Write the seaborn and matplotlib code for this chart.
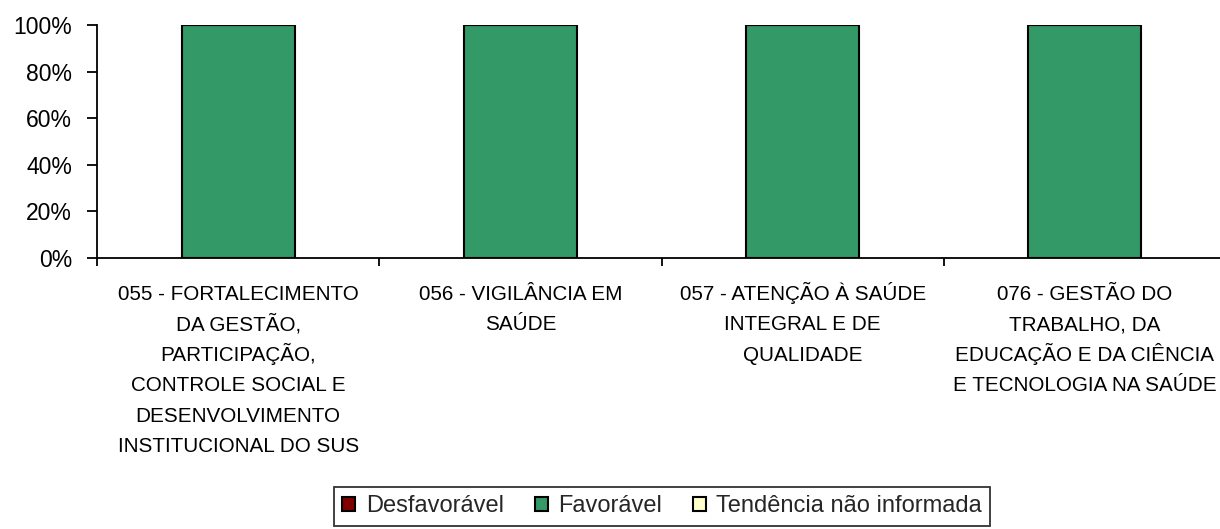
import pandas as pd
import seaborn as sns
import matplotlib.pyplot as plt
from matplotlib.ticker import FuncFormatter, FixedLocator

categorias = ['055 - FORTALECIMENTO\nDA GESTÃO,\nPARTICIPAÇÃO,\nCONTROLE SOCIAL E\nDESENVOLVIMENTO\nINSTITUCIONAL DO SUS',
              '056 - VIGILÂNCIA EM\nSAÚDE',
              '057 - ATENÇÃO À SAÚDE\nINTEGRAL E DE\nQUALIDADE',
              '076 - GESTÃO DO\nTRABALHO, DA\nEDUCAÇÃO E DA CIÊNCIA\nE TECNOLOGIA NA SAÚDE']
desfavoravel = [0, 0, 0, 0]
favoravel = [100, 100, 100, 100]
nao_informada = [0, 0, 0, 0]

sns.set_style('ticks')
plt.rcParams['font.family'] = ['Liberation Sans', 'DejaVu Sans']

data = pd.DataFrame({'Programa': categorias,
                     'Desfavorável': desfavoravel,
                     'Favorável': favoravel,
                     'Tendência não informada': nao_informada})

fig = plt.figure(figsize=(12.2, 5.29), dpi=100)
ax = fig.add_axes([97/1220, 1-258/529, 1129/1220, 233/529])

series = [('Desfavorável', '#800000'), ('Favorável', '#339966'), ('Tendência não informada', '#FFFFCC')]
base = pd.Series([0]*len(categorias), dtype=float)
for nome, cor in series:
    sns.barplot(x='Programa', y=nome, data=data, color=cor, bottom=base.values, saturation=1,
                width=0.4, edgecolor='black', linewidth=1.5, label=nome, ax=ax)
    base = base + data[nome]

ax.set_xlim(-0.5, 3.5)
ax.set_ylim(0, 100)
ax.set_yticks([0, 20, 40, 60, 80, 100])
ax.yaxis.set_major_formatter(FuncFormatter(lambda v, p: f'{v:.0f}%'))
ax.set_xlabel('')
ax.set_ylabel('')
sns.despine(ax=ax)
for s in ['left', 'bottom']:
    ax.spines[s].set_linewidth(1.3)
    ax.spines[s].set_color('black')

ax.tick_params(axis='y', length=7, width=1.3, pad=11, labelsize=16.5, colors='black')
ax.tick_params(axis='x', which='major', length=0)
ax.set_xticklabels([''] * len(categorias))
ax.xaxis.set_minor_locator(FixedLocator([-0.5, 0.5, 1.5, 2.5, 3.5]))
ax.tick_params(axis='x', which='minor', length=6, width=1.3, color='black')

# rótulos das categorias, uma linha de cada vez para espaçamento uniforme
for i, rotulo in enumerate(categorias):
    for j, linha in enumerate(rotulo.split('\n')):
        ax.annotate(linha, xy=(i, 0), xycoords=('data', 'axes fraction'),
                    xytext=(0, -30.2 - j * 21.9), textcoords='offset points',
                    ha='center', va='baseline', fontsize=14.9, color='black')

if ax.legend_:
    ax.legend_.remove()
handles, labels = ax.get_legend_handles_labels()
leg = fig.legend(handles, labels, loc='upper left', bbox_to_anchor=(334/1220, 1-487/529),
                 ncol=3, fontsize=17, frameon=True, fancybox=False, edgecolor='black',
                 handlelength=0.55, handleheight=0.55, handletextpad=0.45,
                 columnspacing=1.3, borderpad=0.35, borderaxespad=0)
leg.get_frame().set_linewidth(1.3)

fig.savefig('out.png', dpi=100)
